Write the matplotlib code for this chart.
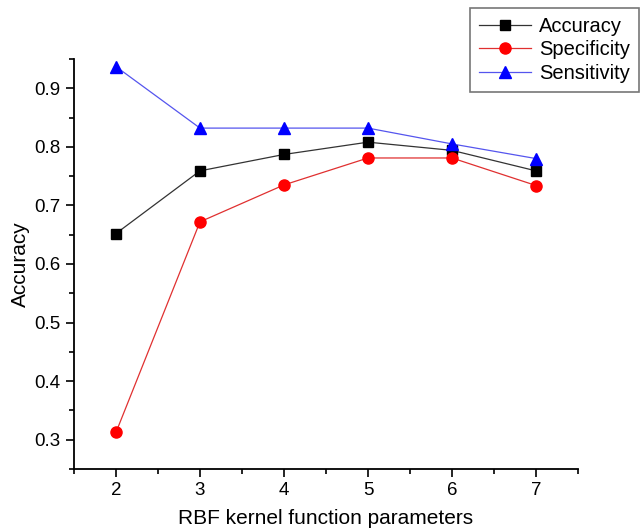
import numpy as np
import matplotlib
matplotlib.use('Agg')
import matplotlib.pyplot as plt
from matplotlib.ticker import MultipleLocator

plt.rcParams['font.family'] = ['Liberation Sans', 'DejaVu Sans']

# Dados
params = [2, 3, 4, 5, 6, 7]
accuracy = [0.652, 0.759, 0.787, 0.808, 0.794, 0.759]
specificity = [0.3125, 0.672, 0.735, 0.781, 0.781, 0.734]
sensitivity = [0.937, 0.832, 0.832, 0.832, 0.805, 0.780]

fig = plt.figure(figsize=(6.4, 5.29), dpi=100)
ax = fig.add_axes([0.1156, 0.1134, 0.7875, 0.7751])

ax.plot(params, accuracy, color='#333333', lw=0.9, marker='s', ms=7,
        mfc='black', mec='black', label='Accuracy')
ax.plot(params, specificity, color='#e03030', lw=0.9, marker='o', ms=8,
        mfc='red', mec='red', label='Specificity')
ax.plot(params, sensitivity, color='#5555ee', lw=0.9, marker='^', ms=8,
        mfc='blue', mec='blue', label='Sensitivity')

ax.set_xlim(1.5, 7.5)
ax.set_ylim(0.25, 0.95)
ax.xaxis.set_major_locator(MultipleLocator(1))
ax.xaxis.set_minor_locator(MultipleLocator(0.5))
ax.yaxis.set_minor_locator(MultipleLocator(0.05))
ax.set_yticks([0.3, 0.4, 0.5, 0.6, 0.7, 0.8, 0.9])
ax.set_yticklabels(['0.3', '0.4', '0.5', '0.6', '0.7', '0.8', '0.9'])

for s in ['top', 'right']:
    ax.spines[s].set_visible(False)
for s in ['left', 'bottom']:
    ax.spines[s].set_linewidth(1.3)

ax.tick_params(which='major', direction='out', length=6, width=1.2, labelsize=13.5)
ax.tick_params(which='minor', direction='out', length=3.5, width=1.2)

ax.set_xlabel('RBF kernel function parameters', fontsize=15, labelpad=7)
ax.set_ylabel('Accuracy', fontsize=15, labelpad=12)
ax.yaxis.set_label_coords(-0.088, 0.5)

leg = fig.legend(loc='upper left', bbox_to_anchor=(0.734, 0.985), fontsize=14.5,
                 frameon=True, fancybox=False, handlelength=2.6,
                 labelspacing=0.22, borderpad=0.45, borderaxespad=0,
                 handletextpad=0.4, edgecolor='#555555')
leg.get_frame().set_linewidth(1.2)

fig.savefig('out.png', dpi=100)
